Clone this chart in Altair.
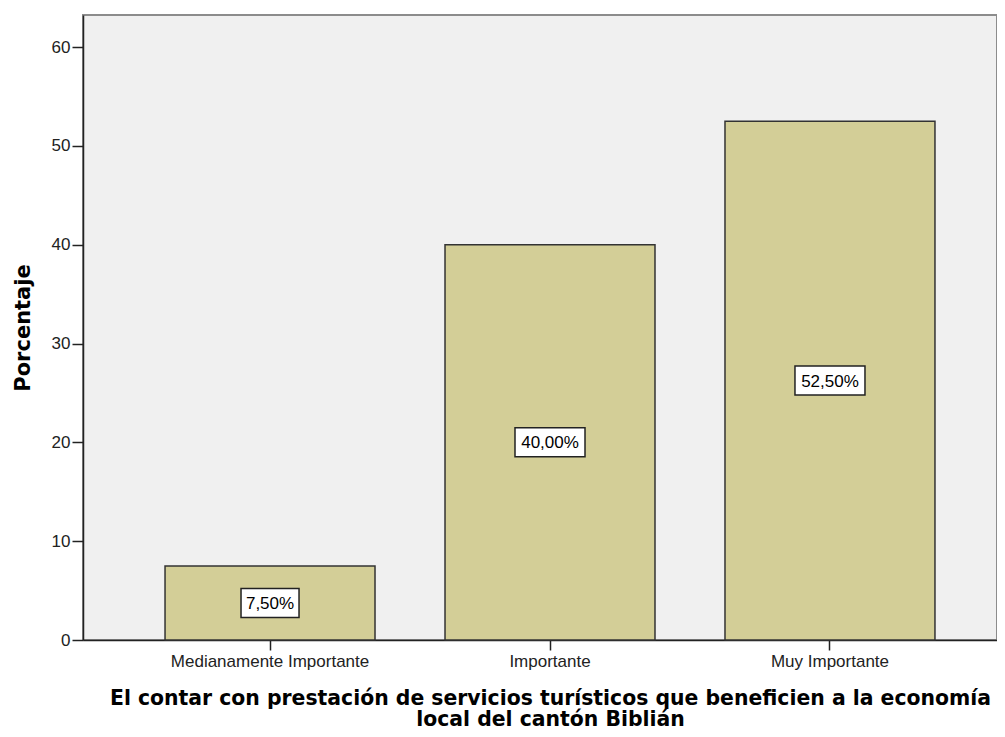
import altair as alt
import pandas as pd

categories = ["Medianamente Importante", "Importante", "Muy Importante"]
values = [7.5, 40.0, 52.5]
labels = ["7,50%", "40,00%", "52,50%"]
y_ticks = [0, 10, 20, 30, 40, 50, 60]
x_title = ["El contar con prestación de servicios turísticos que beneficien a la economía",
           "local del cantón Biblián"]
y_title = "Porcentaje"

df = pd.DataFrame({"cat": categories, "val": values, "lab": labels})
df["mid"] = df["val"] / 2
# label box drawn as a custom symbol: width from label length, fixed height
box_w = df["lab"].str.len() * 12 - 2
box_h = 29
df["sz"] = box_w ** 2
df["shp"] = [f"M-1,-{box_h / w:.4f}L1,-{box_h / w:.4f}L1,{box_h / w:.4f}L-1,{box_h / w:.4f}Z" for w in box_w]

REG = "Liberation Sans"
BOLD = "DejaVu Sans"

xscale = alt.Scale(domain=categories, range=[0, 934], paddingInner=0.25, paddingOuter=0.293)
yscale = alt.Scale(domain=[0, 63.25], nice=False, zero=True)

x_enc = alt.X("cat:N", scale=xscale, sort=categories,
              axis=alt.Axis(title=x_title, labelAngle=0, labelFont=REG, labelFontSize=17,
                            labelLimit=0,
                            labelColor="#222222", labelPadding=3, tickSize=10, tickWidth=1.5,
                            tickColor="#222222", domainColor="#222222", domainWidth=1.5,
                            titleFont=BOLD, titleFontSize=20.4, titleFontWeight="bold",
                            titleColor="#000000", titlePadding=19, titleLineHeight=21.5))

base = alt.Chart(df)

bars = base.mark_bar(fill="#D3CE97", stroke="#333333", strokeWidth=1.5).encode(
    x=x_enc,
    y=alt.Y("val:Q", scale=yscale,
            axis=alt.Axis(title=y_title, values=y_ticks, grid=False, labelFont=REG,
                          labelFontSize=17, labelColor="#222222", labelPadding=2,
                          tickSize=11, tickWidth=1.5, tickColor="#222222",
                          domainColor="#222222", domainWidth=1.5, titleFont=BOLD,
                          titleFontSize=21, titleFontWeight="bold", titleColor="#000000",
                          titlePadding=18)),
)

boxes = base.mark_point(filled=True, fill="white", stroke="#222222", strokeWidth=1.5,
                        opacity=1).encode(
    x=alt.X("cat:N", scale=xscale, sort=categories),
    y=alt.Y("mid:Q", scale=yscale),
    size=alt.Size("sz:Q", scale=None),
    shape=alt.Shape("shp:N", scale=None),
)

texts = base.mark_text(font=REG, fontSize=17, color="#000000", baseline="middle",
                       align="center", dy=1).encode(
    x=alt.X("cat:N", scale=xscale, sort=categories),
    y=alt.Y("mid:Q", scale=yscale),
    text="lab:N",
)

chart = alt.layer(bars, boxes, texts).properties(
    width=914, height=625,
    autosize=alt.AutoSizeParams(type="none"),
    padding={"left": 75, "top": 7, "right": 0, "bottom": 89},
    background="white",
).configure_view(fill="#F0F0F0", stroke="#8C8C8C", strokeWidth=2)

chart.save("out.html", embed_options={"renderer": "svg", "actions": False})
